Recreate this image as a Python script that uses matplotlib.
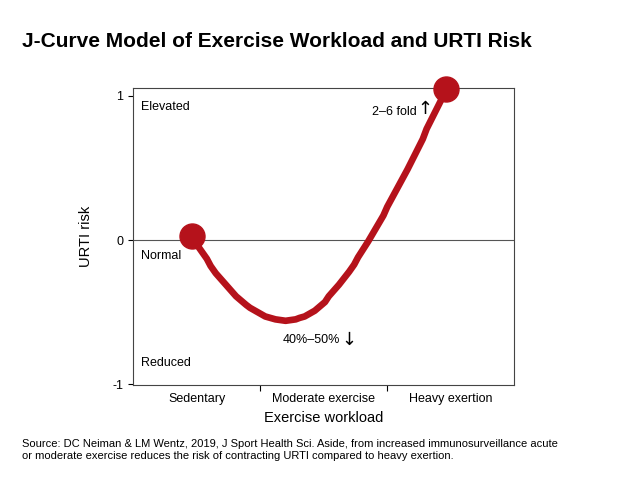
import matplotlib.pyplot as plt

plt.rcParams['font.family'] = ['Liberation Sans', 'DejaVu Sans']

# curve (x in category units 0..3, y in risk units)
curve_x = [0.46, 0.50, 0.54, 0.58, 0.61, 0.65, 0.69, 0.73, 0.77, 0.81, 0.85, 0.89, 0.92, 0.96, 1.00, 1.04,
           1.08, 1.12, 1.16, 1.20, 1.24, 1.28, 1.31, 1.35, 1.39, 1.43, 1.47, 1.51, 1.54, 1.58, 1.62, 1.66,
           1.70, 1.74, 1.77, 1.81, 1.85, 1.89, 1.93, 1.97, 2.00, 2.04, 2.08, 2.12, 2.16, 2.20, 2.24, 2.28,
           2.31, 2.35, 2.39, 2.43, 2.46]
curve_y = [0.03, -0.03, -0.08, -0.13, -0.18, -0.23, -0.27, -0.31, -0.35, -0.39, -0.42, -0.45, -0.47, -0.49,
           -0.51, -0.53, -0.54, -0.55, -0.555, -0.56, -0.555, -0.55, -0.54, -0.53, -0.51, -0.49, -0.46, -0.43,
           -0.39, -0.35, -0.31, -0.265, -0.22, -0.17, -0.12, -0.065, -0.01, 0.05, 0.11, 0.17, 0.23, 0.295, 0.36,
           0.425, 0.49, 0.56, 0.63, 0.70, 0.77, 0.84, 0.91, 0.98, 1.05]
categories = ['Sedentary', 'Moderate exercise', 'Heavy exertion']
ytick_vals = [-1, 0, 1]

fig = plt.figure(figsize=(6.31, 4.92), dpi=100)
ax = fig.add_axes([0.211, 0.2175, 0.604, 0.604])
red = '#b5121b'
ax.plot(curve_x, curve_y, color=red, lw=4.8, solid_capstyle='round', solid_joinstyle='round', zorder=3)
ax.plot([curve_x[0], curve_x[-1]], [curve_y[0], curve_y[-1]], 'o', color=red, ms=18, zorder=4, clip_on=False)
ax.axhline(0, color='#555555', lw=0.8)

ax.set_xlim(0, 3)
ax.set_ylim(-1.005, 1.055)
ax.set_xticks([1, 2])
ax.set_xticklabels([])
ax.set_xticks([0.5, 1.5, 2.5], categories, minor=True)
ax.tick_params(axis='x', which='minor', length=0, labelsize=9, pad=6)
ax.tick_params(axis='x', which='major', length=4)
ax.set_yticks(ytick_vals, [str(v) for v in ytick_vals], fontsize=9)
for s in ax.spines.values():
    s.set_linewidth(0.8)
    s.set_color('#444444')
ax.set_xlabel('Exercise workload', fontsize=10.5, labelpad=4)
ax.set_ylabel('URTI risk', fontsize=10.5, labelpad=14)

ax.text(0.06, 0.92, 'Elevated', fontsize=9, va='center')
ax.text(0.06, -0.11, 'Normal', fontsize=9, va='center')
ax.text(0.06, -0.85, 'Reduced', fontsize=9, va='center')
ax.text(2.23, 0.89, '2–6 fold', fontsize=9, va='center', ha='right')
ax.text(2.24, 0.91, '↑', fontsize=13, va='center', ha='left', family='DejaVu Sans')
ax.text(1.63, -0.69, '40%–50%', fontsize=9, va='center', ha='right')
ax.text(1.64, -0.69, '↓', fontsize=13, va='center', ha='left', family='DejaVu Sans')

fig.text(0.035, 0.905, 'J-Curve Model of Exercise Workload and URTI Risk', fontsize=15, fontweight='bold')
fig.text(0.035, 0.085, 'Source: DC Neiman & LM Wentz, 2019, J Sport Health Sci. Aside, from increased immunosurveillance acute\n'
         'or moderate exercise reduces the risk of contracting URTI compared to heavy exertion.', fontsize=8, va='center')

fig.savefig('out.png', dpi=100)
